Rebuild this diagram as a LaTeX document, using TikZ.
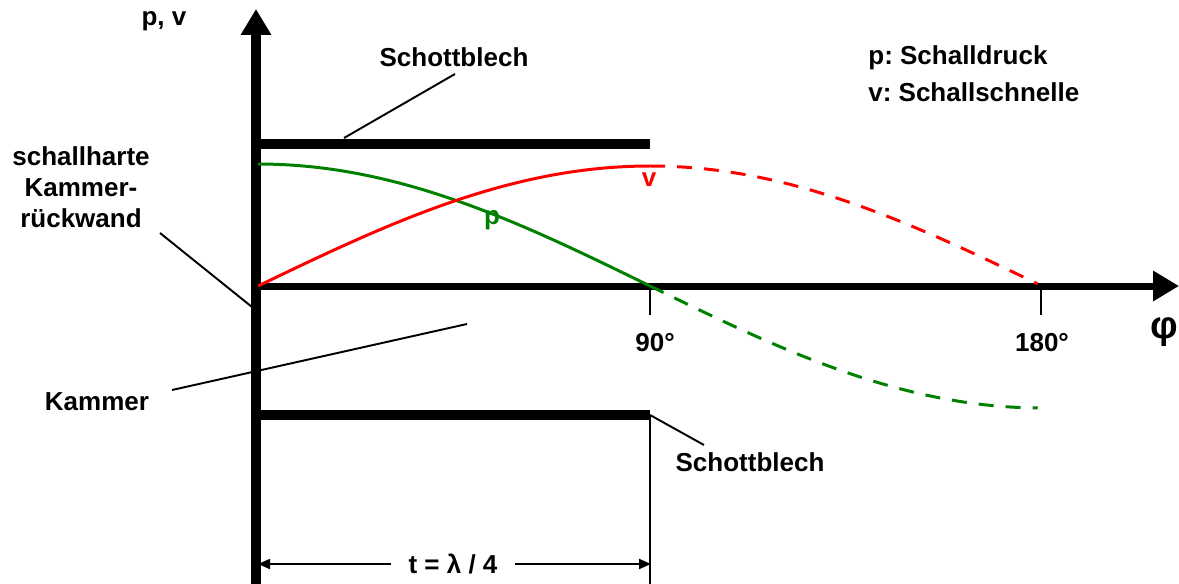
\documentclass[tikz,border=0pt]{standalone}
\usepackage{fontspec}
\setmainfont{Liberation Sans}
\usetikzlibrary{arrows.meta}
\definecolor{pgreen}{RGB}{0,128,0}
\definecolor{pred}{RGB}{255,0,0}
\frenchspacing
\begin{document}
\begin{tikzpicture}[x=0.02cm,y=-0.02cm,
  lbl/.style={font=\fontsize{14.8}{17.6}\selectfont\bfseries\frenchspacing, inner sep=0pt},
  leader/.style={line width=1.1pt},
  bar/.style={line width=0.2cm},
  curve/.style={line width=1.7pt},
  dashcurve/.style={line width=1.7pt, dash pattern=on 0.3cm off 0.24cm},
  bigtip/.style={-{Triangle[length=0.52cm,width=0.58cm]}},
  dimtip/.style={-{Triangle[length=0.24cm,width=0.2cm]}}]
\useasboundingbox (0,0) rectangle (1179,584);
% axes
\coordinate (vbot) at (256,584);
\coordinate (vtop) at (256,9);
\coordinate (hleft) at (251,286);
\coordinate (hright) at (1179,286);
\draw[bar, bigtip] (vbot) -- (vtop);
\draw[line width=0.14cm, bigtip] (hleft) -- (hright);
% plates
\coordinate (tpl) at (251,144.5);
\coordinate (tpr) at (650,144.5);
\coordinate (bpl) at (251,415);
\coordinate (bpr) at (650,415);
\draw[bar] (tpl) -- (tpr);
\draw[bar] (bpl) -- (bpr);
% ticks
\coordinate (t90a) at (650,286);
\coordinate (t90b) at (650,315);
\coordinate (t180a) at (1041,286);
\coordinate (t180b) at (1041,315);
\draw[line width=1.4pt] (t90a) -- (t90b);
\draw[line width=1.4pt] (t180a) -- (t180b);
% thin line at 90
\coordinate (tl1) at (650,415);
\coordinate (tl2) at (650,584);
\draw[leader] (tl1) -- (tl2);
% curves
\draw[curve, pgreen] plot[domain=0:90, samples=60] ({258+4.356*\x},{286-122*cos(\x)});
\draw[dashcurve, pgreen] plot[domain=90:179, samples=60] ({258+4.356*\x},{286-122*cos(\x)});
\draw[curve, pred] plot[domain=0:90, samples=60] ({258+4.356*\x},{286-120*sin(\x)});
\draw[dashcurve, pred] plot[domain=90:179, samples=60] ({258+4.356*\x},{286-120*sin(\x)});
% labels
\node[lbl] (pv) at (164,21) {p, v};
\node[lbl] (sb1) at (454,57) {Schottblech};
\node[lbl, align=center] (wall) at (81,187) {schallharte\\Kammer-\\rückwand};
\node[lbl] (kam) at (97,402) {Kammer};
\node[lbl] (sb2) at (750,462) {Schottblech};
\node[lbl, anchor=west] (leg1) at (868,58) {p: Schalldruck};
\node[lbl, anchor=west] (leg2) at (868,92) {v: Schallschnelle};
\node[lbl] (d90) at (655,343) {90°};
\node[lbl] (d180) at (1042,343) {180°};
\node[font=\fontsize{22}{22}\selectfont\bfseries, inner sep=0pt] (phi) at (1164,332) {φ};
\node[lbl, text=pgreen] (plab) at (492,220) {p};
\node[lbl, text=pred] (vlab) at (649,180) {v};
% leaders
\coordinate (sb1a) at (455,74);
\coordinate (sb1b) at (344,138);
\draw[leader] (sb1a) -- (sb1b);
\coordinate (wa) at (160,233);
\coordinate (wb) at (252,307);
\draw[leader] (wa) -- (wb);
\coordinate (ka) at (172,390);
\coordinate (kb) at (467,324);
\draw[leader] (ka) -- (kb);
\coordinate (sb2a) at (650,415);
\coordinate (sb2b) at (704,445);
\draw[leader] (sb2a) -- (sb2b);
% dimension
\node[lbl, minimum width=124*0.02cm] (tlam) at (453,564) {t = λ / 4};
\coordinate (dl) at (258,564);
\coordinate (dr) at (651,564);
\draw[leader, dimtip] (tlam.west) -- (dl);
\draw[leader, dimtip] (tlam.east) -- (dr);
\end{tikzpicture}
\end{document}
